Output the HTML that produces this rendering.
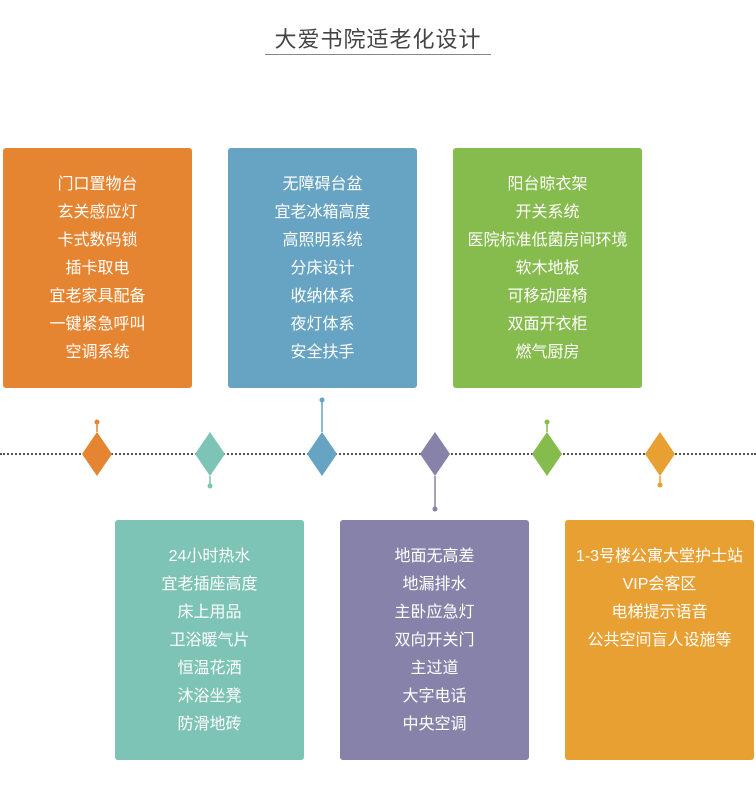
<!DOCTYPE html>
<html><head><meta charset="utf-8"><style>
body{margin:0;width:756px;height:803px;background:#fff;position:relative;overflow:hidden;font-family:"Liberation Sans","Noto Sans CJK SC",sans-serif}
.t{position:absolute;left:0;width:756px;top:22px;text-align:center;font-size:22px;color:#444;letter-spacing:1px}
.ul{position:absolute;left:265px;top:54px;width:226px;height:1px;background:#888}
.b{position:absolute;width:189px;height:240px;border-radius:3px;color:#fff;font-size:16px;text-align:center;line-height:28px;box-sizing:border-box;padding-top:23px}
.line{position:absolute;left:0;top:453px;width:756px;border-top:2px dotted #555}
</style></head><body>
<div class="t">大爱书院适老化设计</div><div class="ul"></div>
<div class="b" style="left:3px;top:148px;background:#E58532">门口置物台<br>玄关感应灯<br>卡式数码锁<br>插卡取电<br>宜老家具配备<br>一键紧急呼叫<br>空调系统</div>
<div class="b" style="left:228px;top:148px;background:#67A3C2">无障碍台盆<br>宜老冰箱高度<br>高照明系统<br>分床设计<br>收纳体系<br>夜灯体系<br>安全扶手</div>
<div class="b" style="left:453px;top:148px;background:#86BB4D">阳台晾衣架<br>开关系统<br>医院标准低菌房间环境<br>软木地板<br>可移动座椅<br>双面开衣柜<br>燃气厨房</div>
<div class="b" style="left:115px;top:520px;background:#7DC4B6">24小时热水<br>宜老插座高度<br>床上用品<br>卫浴暖气片<br>恒温花洒<br>沐浴坐凳<br>防滑地砖</div>
<div class="b" style="left:340px;top:520px;background:#8782AA">地面无高差<br>地漏排水<br>主卧应急灯<br>双向开关门<br>主过道<br>大字电话<br>中央空调</div>
<div class="b" style="left:565px;top:520px;background:#E9A032">1-3号楼公寓大堂护士站<br>VIP会客区<br>电梯提示语音<br>公共空间盲人设施等</div>
<div class="line"></div>
<svg width="756" height="803" style="position:absolute;left:0;top:0">
<g stroke-width="1.5">
<line x1="97" y1="422" x2="97" y2="432" stroke="#E58532"/><circle cx="97" cy="422" r="2.5" fill="#E58532"/>
<line x1="210" y1="476" x2="210" y2="486" stroke="#7DC4B6"/><circle cx="210" cy="486" r="2.5" fill="#7DC4B6"/>
<line x1="322" y1="400" x2="322" y2="432" stroke="#67A3C2"/><circle cx="322" cy="400" r="2.5" fill="#67A3C2"/>
<line x1="435" y1="476" x2="435" y2="509" stroke="#8782AA"/><circle cx="435" cy="509" r="2.5" fill="#8782AA"/>
<line x1="547" y1="422" x2="547" y2="432" stroke="#86BB4D"/><circle cx="547" cy="422" r="2.5" fill="#86BB4D"/>
<line x1="660" y1="476" x2="660" y2="485" stroke="#E9A032"/><circle cx="660" cy="485" r="2.5" fill="#E9A032"/>
</g>
<polygon points="97,432 112,454 97,476 82,454" fill="#E58532"/>
<polygon points="210,432 225,454 210,476 195,454" fill="#7DC4B6"/>
<polygon points="322,432 337,454 322,476 307,454" fill="#67A3C2"/>
<polygon points="435,432 450,454 435,476 420,454" fill="#8782AA"/>
<polygon points="547,432 562,454 547,476 532,454" fill="#86BB4D"/>
<polygon points="660,432 675,454 660,476 645,454" fill="#E9A032"/>
</svg>
</body></html>
